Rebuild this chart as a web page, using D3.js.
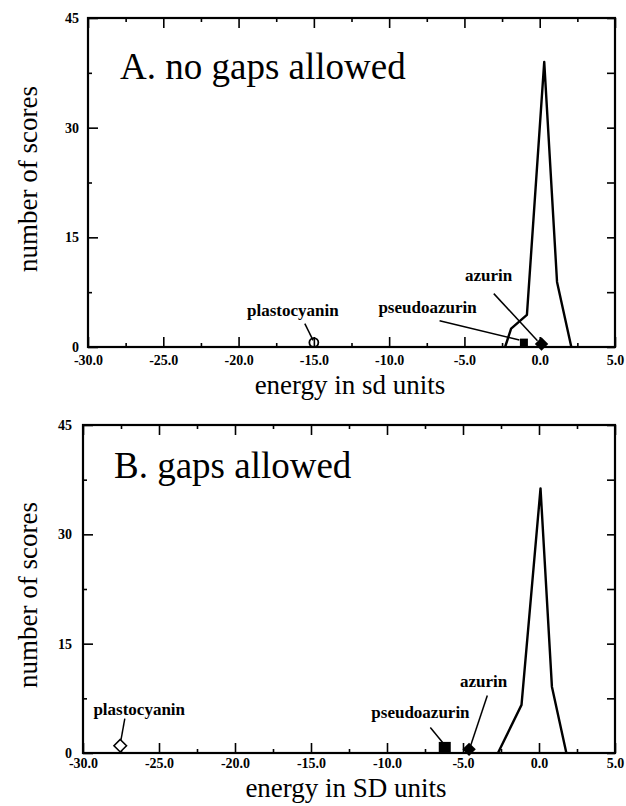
<!DOCTYPE html>
<html>
<head>
<meta charset="utf-8">
<script src="https://cdn.jsdelivr.net/npm/d3@7"></script>
<style>
  body { margin: 0; background: #fff; }
  svg { display: block; font-family: "Liberation Serif", "Times New Roman", serif; }
  .tick line { stroke: #000; stroke-width: 1.6px; }
  .lbl { font-weight: bold; font-size: 17px; }
</style>
</head>
<body>
<svg id="chart" width="626" height="806"></svg>
<script>
// ---- data ----
var xTicks = [-30, -25, -20, -15, -10, -5, 0, 5];
var xTickLabels = ["-30.0", "-25.0", "-20.0", "-15.0", "-10.0", "-5.0", "0.0", "5.0"];
var xMinor = [-27.5, -22.5, -17.5, -12.5, -7.5, -2.5, 2.5];
var yTicks = [0, 15, 30, 45];
var yMinor = [7.5, 22.5, 37.5];

var proteins = ["plastocyanin", "pseudoazurin", "azurin"];
var symbols = ["open", "square", "diamond"];

// panel A, no gaps
var energyA = [-2.3, -1.9, -0.85, 0.3, 1.15, 2.1];
var countA = [0, 2.5, 4.4, 39, 8.9, 0];
var hitXA = [-15.0, -1.05, 0.12];
var hitYA = [0.6, 0.6, 0.4];
var labelXA = [-16.4, -7.45, -3.4];
var labelYA = [4.2, 4.6, 9.0];
var leadFromA = [[-15.6, 3.2], [-6.65, 3.6], [-3.05, 7.3]];
var leadToA = [[-15.05, 0.9], [-1.35, 0.95], [-0.15, 0.85]];

// panel B, gaps
var energyB = [-2.7, -1.15, 0.1, 0.85, 1.8];
var countB = [0, 6.6, 36.3, 9.1, 0];
var hitXB = [-27.55, -6.2, -4.6];
var hitYB = [1.0, 0.7, 0.5];
var labelXB = [-26.3, -7.8, -3.65];
var labelYB = [5.2, 4.8, 9.0];
var leadFromB = [[-27.25, 4.7], [-7.15, 3.5], [-3.4, 7.9]];
var leadToB = [[-27.5, 1.8], [-6.3, 1.35], [-4.5, 1.0]];

var svg = d3.select("#chart");

function drawPanel(p) {
    var w = p.right - p.left, h = p.bottom - p.top;
    var g = svg.append("g").attr("transform", "translate(" + p.left + "," + p.top + ")");

    var x = d3.scaleLinear().domain([-30, 5]).range([0, w]);
    var y = d3.scaleLinear().domain([0, 45]).range([h, 0]);

    // major + minor ticks on all four sides, pointing inward
    g.append("g").attr("transform", "translate(0," + h + ")")
        .call(d3.axisBottom(x).tickValues(xTicks).tickSize(-10).tickPadding(p.xPad)
            .tickFormat(function(d, i) { return xTickLabels[i]; }));
    g.append("g").attr("transform", "translate(0," + h + ")")
        .call(d3.axisBottom(x).tickValues(xMinor).tickSize(-4).tickFormat(""));
    g.append("g")
        .call(d3.axisTop(x).tickValues(xTicks).tickSize(-10).tickFormat(""));
    g.append("g")
        .call(d3.axisTop(x).tickValues(xMinor).tickSize(-4).tickFormat(""));
    g.append("g")
        .call(d3.axisLeft(y).tickValues(yTicks).tickSize(-10).tickPadding(p.yPad));
    g.append("g")
        .call(d3.axisLeft(y).tickValues(yMinor).tickSize(-4).tickFormat(""));
    g.append("g").attr("transform", "translate(" + w + ",0)")
        .call(d3.axisRight(y).tickValues(yTicks.concat(yMinor)).tickSize(-8).tickFormat(""));
    g.selectAll(".domain").remove();
    g.selectAll(".tick text")
        .attr("font-family", "Liberation Serif, serif")
        .attr("font-size", 14)
        .attr("font-weight", "bold")
        .attr("fill", "#000");

    g.append("rect")
        .attr("width", w).attr("height", h)
        .attr("fill", "none").attr("stroke", "#000").attr("stroke-width", 2.2);

    // distribution curve
    var line = d3.line()
        .x(function(d) { return x(d[0]); })
        .y(function(d) { return y(d[1]); });
    g.append("path")
        .datum(d3.zip(p.energy, p.count))
        .attr("d", line)
        .attr("fill", "none").attr("stroke", "#000").attr("stroke-width", 2.4)
        .attr("stroke-linejoin", "round");

    // leader lines
    g.selectAll(".lead").data(proteins).enter().append("line")
        .attr("x1", function(d, i) { return x(p.leadFrom[i][0]); })
        .attr("y1", function(d, i) { return y(p.leadFrom[i][1]); })
        .attr("x2", function(d, i) { return x(p.leadTo[i][0]); })
        .attr("y2", function(d, i) { return y(p.leadTo[i][1]); })
        .attr("stroke", "#000").attr("stroke-width", 1.5);

    // protein labels
    g.selectAll(".lbl").data(proteins).enter().append("text")
        .attr("class", "lbl")
        .attr("x", function(d, i) { return x(p.labelX[i]); })
        .attr("y", function(d, i) { return y(p.labelY[i]); })
        .attr("text-anchor", "middle")
        .text(function(d) { return d; });

    // markers
    proteins.forEach(function(d, i) {
        var cx = x(p.hitX[i]), cy = y(p.hitY[i]);
        var sym = symbols[i];
        if (sym == "open") {
            if (p.openShape == "circle") {
                g.append("circle").attr("cx", cx).attr("cy", cy).attr("r", 4.5)
                    .attr("fill", "none").attr("stroke", "#000").attr("stroke-width", 1.8);
            } else {
                g.append("path")
                    .attr("d", d3.symbol(d3.symbolDiamond2, 100)())
                    .attr("transform", "translate(" + cx + "," + cy + ")")
                    .attr("fill", "#fff").attr("stroke", "#000").attr("stroke-width", 1.6);
            }
        } else if (sym == "square") {
            g.append("rect")
                .attr("x", cx - p.sq / 2).attr("y", cy - p.sq / 2)
                .attr("width", p.sq).attr("height", p.sq).attr("fill", "#000");
        } else {
            g.append("path")
                .attr("d", d3.symbol(d3.symbolDiamond2, 115)())
                .attr("transform", "translate(" + cx + "," + cy + ")")
                .attr("fill", "#000");
        }
    });

    // panel title
    g.append("text")
        .attr("x", p.titleX).attr("y", p.titleY)
        .style("font-size", "37px")
        .text(p.title);

    // axis titles
    svg.append("text")
        .attr("x", p.left + p.xLabelDx).attr("y", p.bottom + p.xLabelDy)
        .attr("text-anchor", "middle")
        .style("font-size", "27px")
        .text(p.xLabel);
    svg.append("text")
        .attr("transform", "translate(37," + p.yLabelY + ") rotate(-90)")
        .attr("text-anchor", "middle")
        .style("font-size", "27px")
        .text("number of scores");
}

drawPanel({
    left: 88, right: 615, top: 18, bottom: 347, xPad: 8, yPad: 9,
    energy: energyA, count: countA,
    hitX: hitXA, hitY: hitYA, labelX: labelXA, labelY: labelYA,
    leadFrom: leadFromA, leadTo: leadToA,
    openShape: "circle", sq: 8,
    title: "A. no gaps allowed", titleX: 32, titleY: 61,
    xLabel: "energy in sd units", xLabelDx: 262, xLabelDy: 47, yLabelY: 179
});

drawPanel({
    left: 83, right: 615, top: 425, bottom: 753, xPad: 5, yPad: 11,
    energy: energyB, count: countB,
    hitX: hitXB, hitY: hitYB, labelX: labelXB, labelY: labelYB,
    leadFrom: leadFromB, leadTo: leadToB,
    openShape: "diamond", sq: 12,
    title: "B. gaps allowed", titleX: 31, titleY: 53,
    xLabel: "energy in SD units", xLabelDx: 263, xLabelDy: 44, yLabelY: 595
});
</script>
</body>
</html>
